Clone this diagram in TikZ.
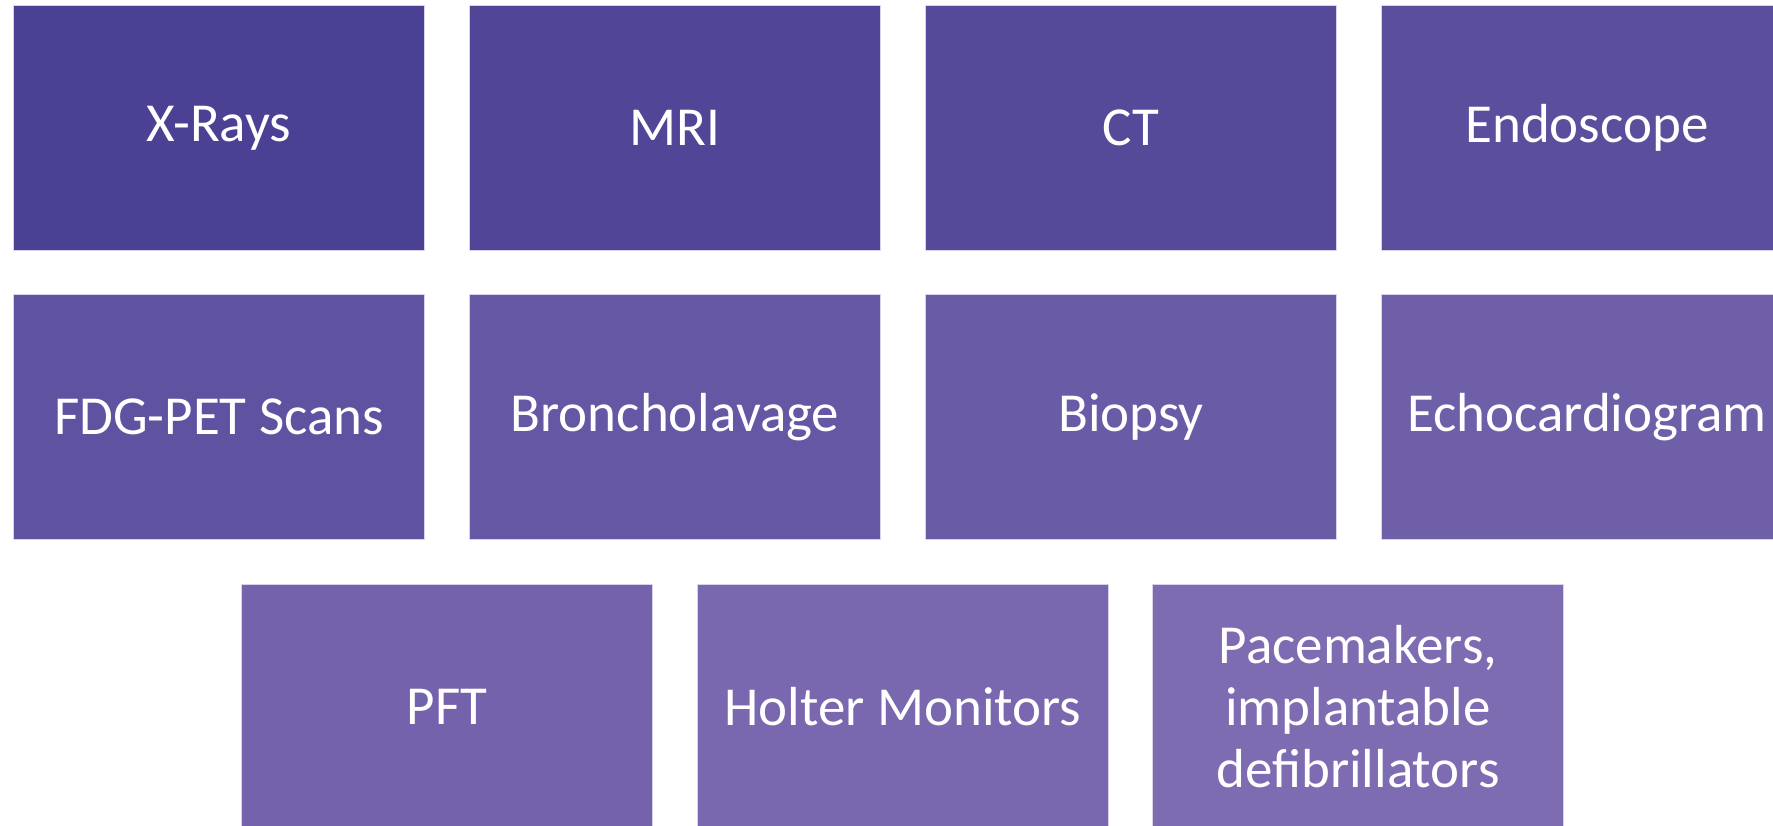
\documentclass[tikz,border=0pt]{standalone}
\usepackage{fontspec}
\setmainfont{Carlito}
\definecolor{cA}{RGB}{75,65,148}
\definecolor{cB}{RGB}{126,108,178}
\tikzset{
  box/.style={minimum width=411pt, minimum height=245pt, anchor=north west, inner sep=0pt,
    draw=white!70!cB, line width=1pt, text=white, align=center,
    font=\fontsize{55pt}{62pt}\selectfont},
}
\begin{document}
\begin{tikzpicture}[x=1pt,y=-1pt]
\useasboundingbox (0,0) rectangle (1773,826);
\clip (0,0) rectangle (1773,826);
\node[box, fill=cB!0!cA] (n1) at (13,5) {X-Rays};
\node[box, fill=cB!10!cA] (n2) at (469,5) {MRI};
\node[box, fill=cB!20!cA] (n3) at (925,5) {CT};
\node[box, fill=cB!30!cA] (n4) at (1381,5) {Endoscope};
\node[box, fill=cB!40!cA] (n5) at (13,294) {FDG-PET Scans};
\node[box, fill=cB!50!cA] (n6) at (469,294) {Broncholavage};
\node[box, fill=cB!60!cA] (n7) at (925,294) {Biopsy};
\node[box, fill=cB!70!cA] (n8) at (1381,294) {Echocardiogram};
\node[box, fill=cB!80!cA] (n9) at (241,584) {PFT};
\node[box, fill=cB!90!cA] (n10) at (697,584) {Holter Monitors};
\node[box, fill=cB!100!cA] (n11) at (1152,584) {Pacemakers,\\implantable\\defibrillators};
\end{tikzpicture}
\end{document}
